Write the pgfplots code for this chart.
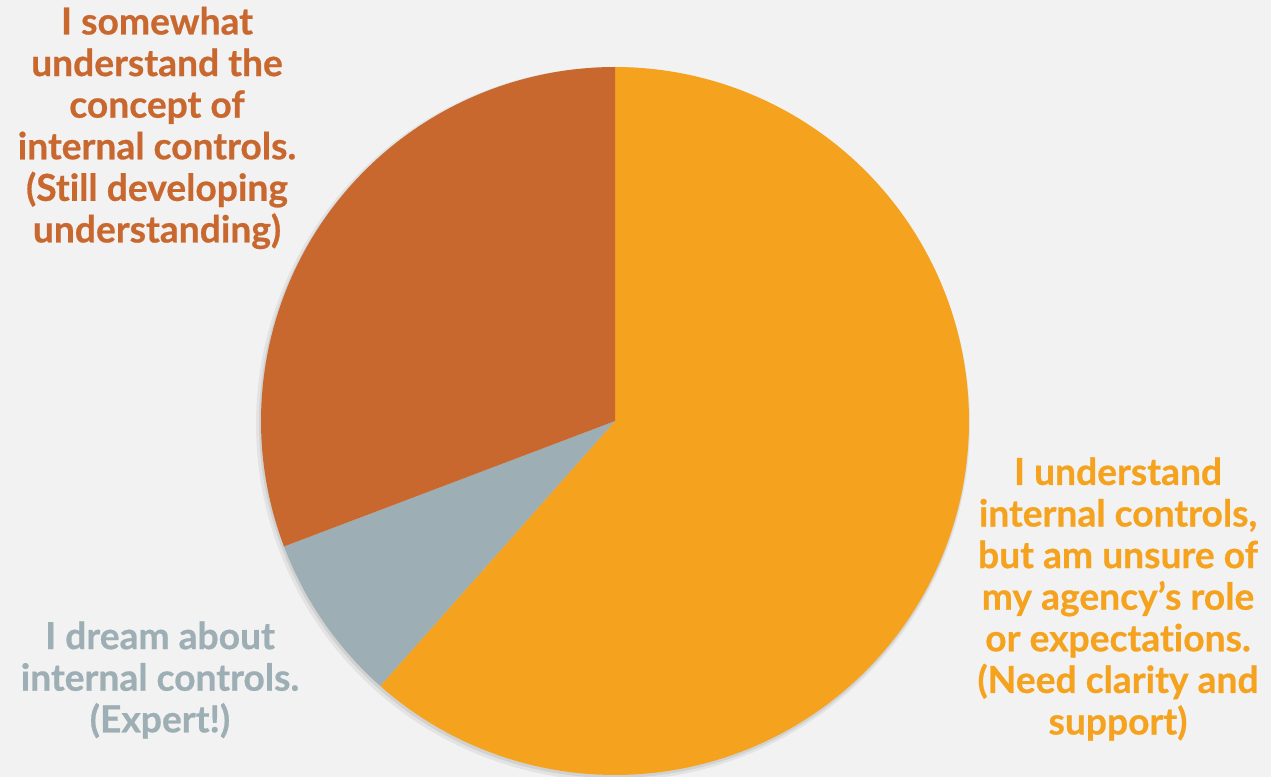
\documentclass[border=0pt]{standalone}
\usepackage{fontspec}
\setmainfont{Lato}[Ligatures=NoCommon, BoldFeatures={FakeBold=0.6}]
\usepackage{pgfplots}
\pgfplotsset{compat=1.18}
\definecolor{bgc}{HTML}{F2F2F2}
\definecolor{orng}{HTML}{F5A31E}
\definecolor{darko}{HTML}{C8682F}
\definecolor{greyc}{HTML}{9DAFB4}
% counts per answer
\def\nA{8}% I understand ... (orange)
\def\nB{1}% I dream about ... (grey)
\def\nC{4}% I somewhat understand ... (dark orange)
\begin{document}
\begin{tikzpicture}
\pgfmathsetmacro{\tot}{\nA+\nB+\nC}
\pgfmathsetmacro{\aA}{90}
\pgfmathsetmacro{\aB}{90-360*\nA/\tot}
\pgfmathsetmacro{\aC}{\aB-360*\nB/\tot}
\pgfmathsetmacro{\aD}{\aC-360*\nC/\tot}
\begin{axis}[
  width=635.5pt, height=388.5pt, scale only axis,
  xmin=0, xmax=1271, ymin=0, ymax=777,
  hide axis,
]
\addplot[fill=bgc, draw=none] coordinates {(0,0) (1271,0) (1271,777) (0,777)} -- cycle;
% soft shadow
\addplot[fill=black, fill opacity=0.06, draw=none, domain=0:360, samples=200, variable=\t] ({613+357*cos(t)}, {353+357*sin(t)}) -- cycle;
\addplot[fill=black, fill opacity=0.08, draw=none, domain=0:360, samples=200, variable=\t] ({614+355*cos(t)}, {354+355*sin(t)}) -- cycle;
% wedges
\addplot[fill=orng, draw=none, domain=\aB:\aA, samples=150, variable=\t] ({615+354*cos(t)}, {356+354*sin(t)}) -- (axis cs:615,356) -- cycle;
\addplot[fill=greyc, draw=none, domain=\aC:\aB, samples=40, variable=\t] ({615+354*cos(t)}, {356+354*sin(t)}) -- (axis cs:615,356) -- cycle;
\addplot[fill=darko, draw=none, domain=\aD:\aC, samples=100, variable=\t] ({615+354*cos(t)}, {356+354*sin(t)}) -- (axis cs:615,356) -- cycle;
% labels
\node[align=center, text=darko, font=\fontsize{18.6}{20.8}\selectfont\bfseries] at (axis cs:157,649) {I somewhat\\understand the\\concept of\\internal controls.\\(Still developing\\understanding)};
\node[align=center, text=greyc, font=\fontsize{18.6}{20.8}\selectfont\bfseries] at (axis cs:160,97) {I dream about\\internal controls.\\(Expert!)};
\node[align=center, text=orng, font=\fontsize{18.6}{20.8}\selectfont\bfseries] at (axis cs:1118,178) {I understand\\internal controls,\\but am unsure of\\my agency’s role\\or expectations.\\(Need clarity and\\support)};
\end{axis}
\end{tikzpicture}
\end{document}
